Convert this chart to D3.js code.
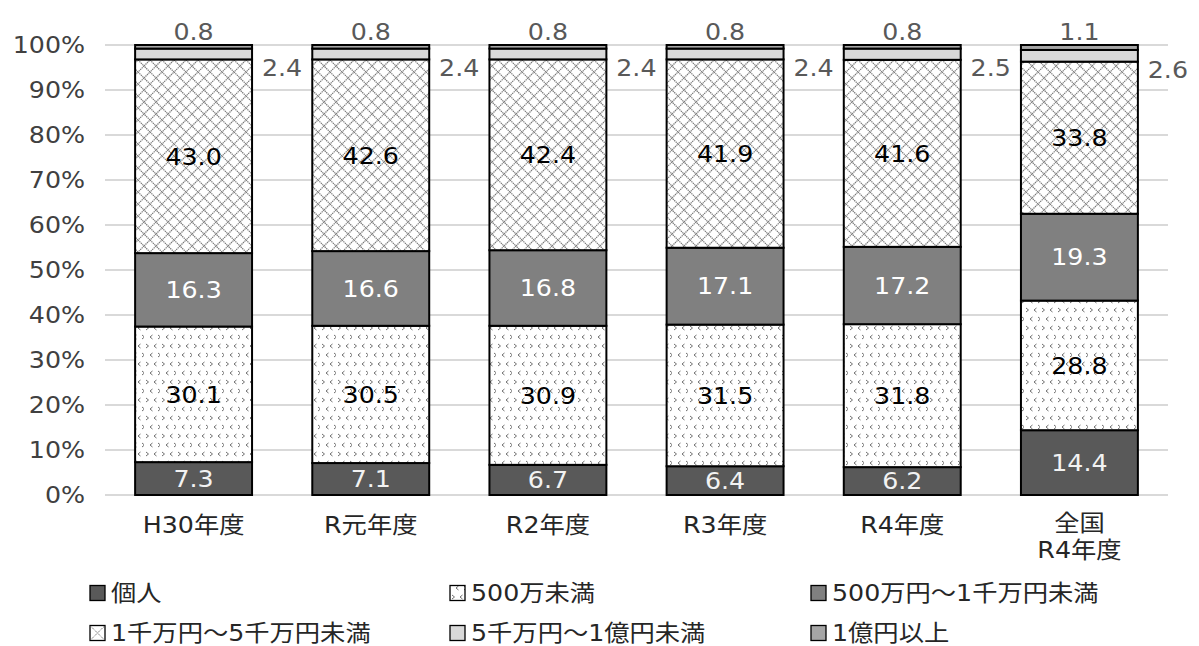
<!DOCTYPE html>
<html>
<head>
<meta charset="utf-8">
<script src="https://cdn.jsdelivr.net/npm/d3@7"></script>
<style>
  html, body { margin: 0; padding: 0; background: #fff; }
  svg { display: block; font-family: "DejaVu Sans", "Noto Sans CJK JP", sans-serif; }
</style>
</head>
<body>
<svg id="chart" width="1199" height="646"></svg>
<script>
// Categories (fiscal years) and share of each capital-size class, in %
const categories = ["H30年度", "R元年度", "R2年度", "R3年度", "R4年度", "全国\nR4年度"];
const seriesNames = ["個人", "500万未満", "500万円～1千万円未満", "1千万円～5千万円未満", "5千万円～1億円未満", "1億円以上"];
const kojin      = [7.3, 7.1, 6.7, 6.4, 6.2, 14.4];
const under500   = [30.1, 30.5, 30.9, 31.5, 31.8, 28.8];
const from500    = [16.3, 16.6, 16.8, 17.1, 17.2, 19.3];
const from1000   = [43.0, 42.6, 42.4, 41.9, 41.6, 33.8];
const from5000   = [2.4, 2.4, 2.4, 2.4, 2.5, 2.6];
const over1oku   = [0.8, 0.8, 0.8, 0.8, 0.8, 1.1];
const yTicks = [0, 10, 20, 30, 40, 50, 60, 70, 80, 90, 100];

const seriesValues = [kojin, under500, from500, from1000, from5000, over1oku];

const FONT = 23;
const STRETCH = 1.1;
// place a text node at (x, y) with a slightly widened face
function place(sel, px, py) {
  return sel.attr("transform", `translate(${px},${py}) scale(${STRETCH},1)`);
}

const svg = d3.select("#chart");
const defs = svg.append("defs");

// Pattern: small scattered chevrons on white
const pDot = defs.append("pattern").attr("id", "pat-dot")
  .attr("patternUnits", "userSpaceOnUse").attr("width", 16).attr("height", 18);
pDot.append("rect").attr("width", 16).attr("height", 18).attr("fill", "#fff");
const chev = [[2, 2, 1], [10, 2, -1], [6, 11, -1], [14, 11, 1]];
chev.forEach(([cx, cy, d]) => {
  pDot.append("path")
    .attr("d", d > 0 ? `M${cx},${cy} l2.5,2 l-2.5,2` : `M${cx + 2.5},${cy} l-2.5,2 l2.5,2`)
    .attr("fill", "none").attr("stroke", "#6f6f6f").attr("stroke-width", 1);
});

// Pattern: diamond lattice of dotted diagonals
const pX = defs.append("pattern").attr("id", "pat-x")
  .attr("patternUnits", "userSpaceOnUse").attr("width", 12).attr("height", 12);
pX.append("rect").attr("width", 12).attr("height", 12).attr("fill", "#fff");
pX.append("path").attr("d", "M0,6 L6,0 L12,6 L6,12 Z")
  .attr("fill", "none").attr("stroke", "#7a7a7a").attr("stroke-width", 1.2)
  .attr("stroke-dasharray", "1.4,0.7");

const fills = ["#595959", "url(#pat-dot)", "#808080", "url(#pat-x)", "#d9d9d9", "#a6a6a6"];
const labelColors = ["#f2f2f2", "#000", "#fff", "#000", "#595959", "#595959"];

const x = d3.scaleBand().domain(categories).range([105, 1168])
  .paddingInner(0.34).paddingOuter(0.17);
const y = d3.scaleLinear().domain([0, 100]).range([495, 45]);

// Gridlines
svg.append("g").selectAll("line").data(yTicks).join("line")
  .attr("x1", 105).attr("x2", 1168)
  .attr("y1", d => y(d)).attr("y2", d => y(d))
  .attr("stroke", "#d9d9d9").attr("stroke-width", 2);

// Y axis labels
svg.append("g").selectAll("text").data(yTicks).join("text")
  .each(function (d) { place(d3.select(this), 85, y(d)); })
  .attr("dy", "0.36em")
  .attr("text-anchor", "end").attr("font-size", FONT).attr("fill", "#404040")
  .text(d => d + "%");

// Stack, normalised to 100%
const rows = categories.map((c, i) => {
  const r = { cat: c };
  seriesNames.forEach((s, k) => r[s] = seriesValues[k][i]);
  return r;
});
const stack = d3.stack().keys(seriesNames).offset(d3.stackOffsetExpand);
const layers = stack(rows);

const gBars = svg.append("g");
layers.forEach((layer, k) => {
  gBars.append("g").selectAll("rect").data(layer).join("rect")
    .attr("x", d => x(d.data.cat))
    .attr("width", x.bandwidth())
    .attr("y", d => y(d[1] * 100))
    .attr("height", d => y(d[0] * 100) - y(d[1] * 100))
    .attr("fill", fills[k])
    .attr("stroke", "#000").attr("stroke-width", 2);
});

// Value labels
const gLab = svg.append("g").attr("font-size", FONT);
layers.forEach((layer, k) => {
  const vals = seriesValues[k];
  gLab.append("g").selectAll("text").data(layer).join("text")
    .each(function (d) {
      let px, py;
      if (k === 4) px = x(d.data.cat) + x.bandwidth() + 30;
      else px = x(d.data.cat) + x.bandwidth() / 2;
      if (k === 5) py = y(d[1] * 100) - 13;
      else if (k === 4) py = y(d[0] * 100) + 8;
      else py = y((d[0] + d[1]) / 2 * 100);
      place(d3.select(this), px, py);
    })
    .attr("dy", "0.36em")
    .attr("text-anchor", "middle")
    .attr("fill", labelColors[k])
    .text((d, i) => vals[i].toFixed(1));
});

// Category labels
const gX = svg.append("g").attr("font-size", FONT).attr("fill", "#262626");
categories.forEach(c => {
  const lines = c.split("\n");
  const cx = x(c) + x.bandwidth() / 2;
  const top = lines.length > 1 ? 523 : 525;
  lines.forEach((ln, j) => {
    place(gX.append("text"), cx, top + j * 27)
      .attr("text-anchor", "middle").attr("dy", "0.36em").text(ln);
  });
});

// Legend
const legPos = [[90, 593], [450, 593], [811, 593], [90, 633], [450, 633], [811, 633]];
const legFills = ["#595959", "url(#pat-dot)", "#808080", null, "#d9d9d9", "#a6a6a6"];
const gLeg = svg.append("g");
seriesNames.forEach((s, k) => {
  const [lx, ly] = legPos[k];
  const g = gLeg.append("g").attr("transform", `translate(${lx},${ly})`);
  g.append("rect").attr("x", 0).attr("y", -7.5).attr("width", 15).attr("height", 15)
    .attr("fill", legFills[k] || "#fff").attr("stroke", "#000").attr("stroke-width", 1.3);
  if (k === 3) {
    g.append("path").attr("d", "M1,-6.5 L14,6.5 M14,-6.5 L1,6.5")
      .attr("stroke", "#808080").attr("stroke-width", 1).attr("stroke-dasharray", "1.4,0.7");
  }
  place(g.append("text"), 21, 0).attr("dy", "0.36em")
    .attr("font-size", FONT).attr("fill", "#262626").text(s);
});
</script>
</body>
</html>
